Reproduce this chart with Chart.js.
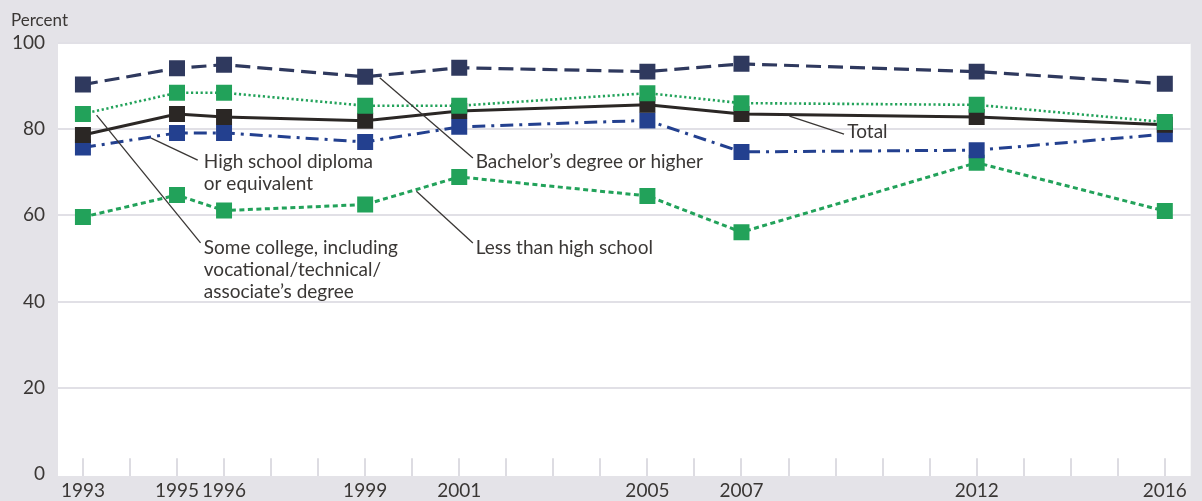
<!DOCTYPE html>
<html>
<head>
<meta charset="utf-8">
<script src="https://cdn.jsdelivr.net/npm/chart.js@4"></script>
<style>
  html, body { margin: 0; padding: 0; background: #e4e3e8; }
  #wrap { width: 1202px; height: 501px; }
</style>
</head>
<body>
<div id="wrap"><canvas id="myChart" width="1202" height="501"></canvas></div>
<script>
    const years = [1993, 1995, 1996, 1999, 2001, 2005, 2007, 2012, 2016];
    const yTicks = [0, 20, 40, 60, 80, 100];

    const someCollege = [83.5, 88.4, 88.4, 85.4, 85.4, 88.3, 86.0, 85.6, 81.6];
    const total = [78.6, 83.5, 82.8, 81.9, 84.2, 85.6, 83.5, 82.8, 81.0];
    const highSchool = [75.7, 79.1, 79.1, 77.0, 80.5, 82.0, 74.7, 75.1, 78.8];
    const bachelors = [90.3, 94.1, 94.9, 92.1, 94.2, 93.3, 95.1, 93.3, 90.5];
    const lessThanHS = [59.6, 64.7, 61.1, 62.5, 68.9, 64.5, 56.1, 72.2, 61.0];

    const FONT = 'Lato, "Open Sans", sans-serif';
    const TEXT = '#3a3735';

    // callout labels: leader line from a point near the series to the text
    const callouts = [
        { lines: ['High school diploma', 'or equivalent'], from: [1994.45, 77.9], to: [1995.44, 72.8], text: [1995.57, 72.3] },
        { lines: ['Some college, including', 'vocational/technical/', 'associate\u2019s degree'], from: [1993.29, 83.2], to: [1995.50, 53.6], text: [1995.57, 52.4] },
        { lines: ['Bachelor\u2019s degree or higher'], from: [1999.31, 91.9], to: [2001.29, 73.3], text: [2001.35, 72.3] },
        { lines: ['Less than high school'], from: [2000.09, 65.6], to: [2001.29, 53.6], text: [2001.35, 52.4] },
        { lines: ['Total'], from: [2008.02, 83.0], to: [2009.18, 78.8], text: [2009.25, 79.3] }
    ];

    function toXY(data) {
        return data.map((v, i) => ({ x: years[i], y: v }));
    }

    function series(label, data, color, dash, width) {
        return {
            label: label,
            data: toXY(data),
            borderColor: color,
            backgroundColor: color,
            borderWidth: width,
            borderDash: dash,
            borderCapStyle: 'butt',
            pointStyle: 'rect',
            pointRadius: 11.3,
            pointHoverRadius: 11.3,
            pointBorderWidth: 0,
            tension: 0
        };
    }

    const backdrop = {
        id: 'backdrop',
        beforeDraw(chart) {
            const { ctx, chartArea: a } = chart;
            ctx.save();
            ctx.fillStyle = '#e4e3e8';
            ctx.fillRect(0, 0, chart.width, chart.height);
            ctx.fillStyle = '#ffffff';
            ctx.fillRect(a.left, a.top, a.right - a.left, a.bottom - a.top + 1.7);
            ctx.restore();
        },
        beforeDatasetsDraw(chart) {
            // small year ticks rising from the bottom edge
            const { ctx, chartArea: a, scales } = chart;
            ctx.save();
            ctx.strokeStyle = '#dddce2';
            ctx.lineWidth = 2;
            for (let yr = 1993; yr <= 2016; yr++) {
                const px = Math.round(scales.x.getPixelForValue(yr));
                ctx.beginPath();
                ctx.moveTo(px, a.bottom + 1.7);
                ctx.lineTo(px, a.bottom - 16);
                ctx.stroke();
            }
            ctx.restore();
        },
        afterDraw(chart) {
            const { ctx, scales } = chart;
            ctx.save();
            ctx.fillStyle = TEXT;
            ctx.font = '17px ' + FONT;
            ctx.textBaseline = 'alphabetic';
            ctx.fillText('Percent', 11, 26);

            ctx.strokeStyle = '#3a3735';
            ctx.lineWidth = 1.3;
            ctx.font = '19px ' + FONT;
            ctx.textBaseline = 'middle';
            callouts.forEach(c => {
                ctx.beginPath();
                ctx.moveTo(scales.x.getPixelForValue(c.from[0]), scales.y.getPixelForValue(c.from[1]));
                ctx.lineTo(scales.x.getPixelForValue(c.to[0]), scales.y.getPixelForValue(c.to[1]));
                ctx.stroke();
                const tx = scales.x.getPixelForValue(c.text[0]);
                const ty = scales.y.getPixelForValue(c.text[1]);
                c.lines.forEach((ln, i) => ctx.fillText(ln, tx, ty + i * 22));
            });
            ctx.restore();
        }
    };

    const ctx = document.getElementById('myChart').getContext('2d');
    const myChart = new Chart(ctx, {
        type: 'line',
        data: {
            datasets: [
                series('Some college, including vocational/technical/associate\u2019s degree', someCollege, '#22a25a', [2.2, 2.6], 2.6),
                series('Total', total, '#2b2725', [], 3),
                series('High school diploma or equivalent', highSchool, '#23408f', [13, 6, 3, 6], 3),
                series('Bachelor\u2019s degree or higher', bachelors, '#2f395e', [15, 7], 3.2),
                series('Less than high school', lessThanHS, '#22a25a', [5, 3.5], 3)
            ]
        },
        options: {
            responsive: false,
            animation: false,
            events: [],
            layout: { padding: { top: 42.7, right: 0, bottom: 0, left: 0 } },
            plugins: {
                legend: { display: false },
                tooltip: { enabled: false }
            },
            scales: {
                x: {
                    type: 'linear',
                    min: 1992.47,
                    max: 2016.55,
                    afterBuildTicks: scale => { scale.ticks = years.map(v => ({ value: v })); },
                    afterFit: scale => { scale.height = 26.7; },
                    grid: { display: false, drawTicks: false },
                    border: { display: false },
                    ticks: {
                        autoSkip: false,
                        maxRotation: 0,
                        padding: 5,
                        color: TEXT,
                        font: { family: FONT, size: 19 },
                        callback: v => String(v)
                    }
                },
                y: {
                    type: 'linear',
                    min: 0,
                    max: 100,
                    afterBuildTicks: scale => { scale.ticks = yTicks.map(v => ({ value: v })); },
                    afterFit: scale => { scale.width = 58; },
                    grid: {
                        color: ctx => ctx.tick.value === 0 ? 'rgba(0,0,0,0)' : '#e1e0e6',
                        lineWidth: 2,
                        drawTicks: false
                    },
                    border: { display: false },
                    ticks: {
                        padding: 13,
                        color: TEXT,
                        font: { family: FONT, size: 19 }
                    }
                }
            }
        },
        plugins: [backdrop]
    });
</script>
</body>
</html>
